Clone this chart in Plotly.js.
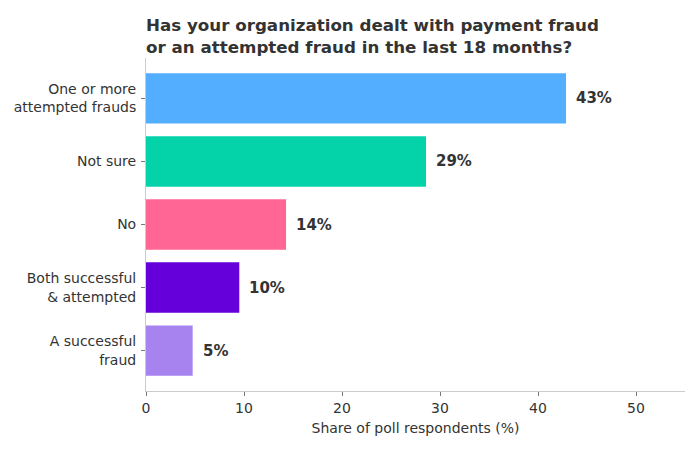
<!DOCTYPE html>
<html>
<head>
<meta charset="utf-8">
<script src="https://cdn.plot.ly/plotly-3.0.1.min.js"></script>
<style>html,body{margin:0;padding:0;background:#fff}#chart{width:700px;height:450px}</style>
</head>
<body>
<div id="chart"></div>
<script>
const categories = ["One or more<br>attempted frauds", "Not sure", "No", "Both successful<br>& attempted", "A successful<br>fraud"];
const values = [42.86, 28.57, 14.29, 9.52, 4.76];
const valueLabels = ["43%", "29%", "14%", "10%", "5%"];
const colors = ["#53aeff", "#04d3aa", "#ff6695", "#6600db", "#a683ee"];
const xTicks = [0, 10, 20, 30, 40, 50];

const font = "DejaVu Sans, sans-serif";
const textColor = "#333333";

const trace = {
  type: "bar",
  orientation: "h",
  x: values,
  y: categories,
  width: 0.8,
  marker: {color: colors, line: {width: 0}},
  hoverinfo: "none"
};

const annotations = values.map((v, i) => ({
  x: v, y: categories[i], xref: "x", yref: "y",
  text: "<b>" + valueLabels[i] + "</b>",
  showarrow: false, xanchor: "left", yanchor: "middle", xshift: 8,
  font: {family: font, size: 15, color: textColor}
}));

const layout = {
  width: 700, height: 450,
  margin: {l: 146, r: 15, t: 58, b: 59},
  paper_bgcolor: "#fff", plot_bgcolor: "#fff",
  showlegend: false,
  title: {
    text: "<b>Has your organization dealt with payment fraud<br>or an attempted fraud in the last 18 months?</b>",
    x: 0, xref: "paper", xanchor: "left",
    y: 1, yref: "container", yanchor: "top", pad: {t: 31},
    font: {family: font, size: 16.7, color: textColor}
  },
  xaxis: {
    range: [0, 55], tickvals: xTicks, ticktext: xTicks.map(String),
    showgrid: false, zeroline: false,
    showline: true, linecolor: "#cccccc", linewidth: 1,
    ticks: "outside", ticklen: 4, tickcolor: "#777777", tickwidth: 1,
    tickfont: {family: font, size: 14, color: textColor},
    title: {text: "Share of poll respondents (%)", font: {family: font, size: 14, color: textColor}, standoff: 8}
  },
  yaxis: {
    type: "category", categoryorder: "array", categoryarray: categories,
    range: [4.64, -0.64],
    showgrid: false, zeroline: false,
    showline: true, linecolor: "#cccccc", linewidth: 1,
    ticks: "outside", ticklen: 4, tickcolor: "#777777", tickwidth: 1,
    tickfont: {family: font, size: 14, color: textColor},
    ticklabelstandoff: 2
  },
  annotations: annotations
};

Plotly.newPlot("chart", [trace], layout, {displayModeBar: false, staticPlot: true});
</script>
</body>
</html>
